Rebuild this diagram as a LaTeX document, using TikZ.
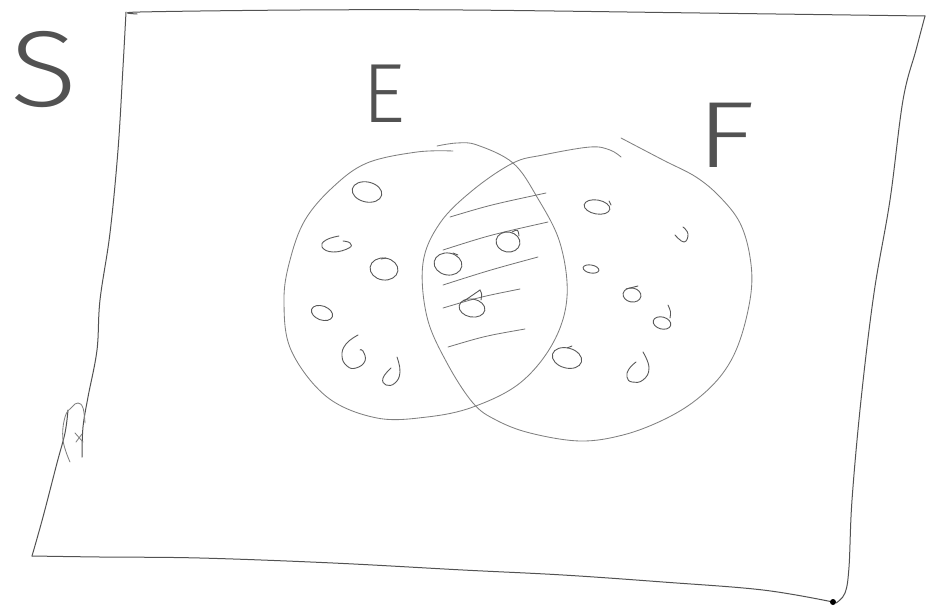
\documentclass[tikz,border=0pt]{standalone}
\usepackage{fontspec}
\IfFontExistsTF{Fira Sans Light}{\newfontfamily\handfont{Fira Sans Light}}{\newfontfamily\handfont{Fira Sans}}
\begin{document}
\begin{tikzpicture}[x=1pt,y=-1pt,
  frame/.style={draw=black!68, line width=1.0pt, line cap=round, line join=round},
  setline/.style={draw=black!50, line width=0.85pt, line cap=round},
  pebble/.style={draw=black!65, line width=0.9pt, line cap=round},
  hatch/.style={draw=black!55, line width=0.8pt, line cap=round},
  lbl/.style={text=black!68, inner sep=0pt, font=\handfont}]
\useasboundingbox (0,0) rectangle (926,605);
% ---- frame S ----
\draw[frame] plot[smooth, tension=0.6] coordinates {(137,14) (140,12) (300,10) (463,10) (700,13) (925,16)};
\draw[frame] plot[smooth, tension=0.6] coordinates {(925,16) (916,50) (903,100) (890,200) (874,293) (861,400) (852,500) (849,567) (845,593) (836,603)};
\draw[frame] plot[smooth, tension=0.6] coordinates {(32,556) (100,557) (200,558) (333,563) (463,570) (563,575) (663,582) (763,590) (833,602)};
\draw[frame] plot[smooth, tension=0.6] coordinates {(126,12) (123,67) (118,150) (110,233) (100,300) (97,350) (88,397) (83,427) (82,457)};
\draw[frame] plot[smooth, tension=0.6] coordinates {(68,410) (65,433) (57,463) (43,517) (32,556)};
\draw[setline] plot[smooth, tension=0.7] coordinates {(70,462) (63,440) (65,417) (72,407) (78,403) (83,408) (85,423)};
\draw[setline] (75,433) -- (83,442) (76,442) -- (82,434);
\fill[black] (833,602) circle (3);
% ---- set E ----
\draw[setline] plot[smooth, tension=0.6] coordinates {(453,151) (417,152) (367,163) (333,187) (305,220) (290,260) (284,300) (291,350) (327,397) (377,418) (427,417) (473,407) (520,383) (553,343) (567,297) (560,243) (537,197) (513,163) (477,145) (457,143) (437,146)};
% ---- set F ----
\draw[setline] plot[smooth, tension=0.6] coordinates {(621,138) (663,160) (696,177) (720,197) (740,223) (750,257) (751,293) (740,340) (723,373) (696,400) (663,420) (623,435) (580,441) (530,433) (496,420) (473,403) (447,363) (427,317) (423,263) (440,223) (473,190) (513,163) (543,155) (590,147) (610,150) (621,157)};
% ---- hatching of the intersection ----
\draw[hatch] (450,217) .. controls (490,205) .. (546,193);
\draw[hatch] (443,250) .. controls (490,235) .. (548,222);
\draw[hatch] (443,285) .. controls (490,270) .. (538,257);
\draw[hatch] (443,308) .. controls (480,297) .. (520,289);
\draw[hatch] (448,347) .. controls (485,336) .. (525,329);
% ---- elements of E only ----
\draw[pebble, rotate around={-12:(367,192)}] (367,192) ellipse (15 and 10);
\draw[pebble] plot[smooth, tension=0.8] coordinates {(339,236) (326,240) (322,247) (333,252) (349,248) (350,243) (343,241)};
\draw[pebble, rotate around={-8:(384,269)}] (384,269) ellipse (14 and 11);
\draw[pebble] (381,259) -- (386,258);
\draw[pebble, rotate around={-20:(322,313)}] (322,313) ellipse (11 and 7);
\draw[pebble] plot[smooth, tension=0.8] coordinates {(358,335) (346,344) (342,356) (347,366) (356,368) (365,361) (363,351) (360,350)};
\draw[pebble] plot[smooth, tension=0.8] coordinates {(397,357) (400,372) (395,383) (386,385) (383,378) (391,368)};
% ---- elements of E and F ----
\draw[pebble, rotate around={-10:(508,242)}] (508,242) ellipse (12 and 10);
\draw[pebble] (512,232) .. controls (518,229) .. (519,236);
\draw[pebble, rotate around={-10:(448,264)}] (448,264) ellipse (14 and 11);
\draw[pebble] (453,253) -- (458,255);
\draw[pebble, rotate around={-10:(472,308)}] (472,308) ellipse (13 and 9);
\draw[pebble] (464,301) -- (480,290) .. controls (482,294) .. (481,300);
% ---- elements of F only ----
\draw[pebble, rotate around={-10:(597,207)}] (597,207) ellipse (13 and 7);
\draw[pebble] (609,201) -- (611,205);
\draw[pebble] plot[smooth, tension=0.8] coordinates {(675,235) (684,242) (688,234) (683,227)};
\draw[pebble, rotate around={-10:(591,269)}] (591,269) ellipse (8 and 4);
\draw[pebble, rotate around={-10:(632,295)}] (632,295) ellipse (9 and 7);
\draw[pebble] (626,289) -- (638,286);
\draw[pebble, rotate around={-15:(662,323)}] (662,323) ellipse (9 and 6);
\draw[pebble] (668,305) .. controls (671,312) .. (670,318);
\draw[pebble, rotate around={-15:(567,358)}] (567,358) ellipse (15 and 10);
\draw[pebble] (567,348) -- (572,346);
\draw[pebble] plot[smooth, tension=0.8] coordinates {(643,352) (649,368) (643,380) (632,382) (627,377) (629,369) (636,362)};
% ---- labels ----
\node[lbl, font=\handfont\fontsize{108}{108}\selectfont, xscale=1.15] (labS) at (44,70) {S};
\node[lbl, font=\handfont\fontsize{84}{84}\selectfont] (labE) at (384,94) {E};
\node[lbl, font=\handfont\fontsize{94}{94}\selectfont, xscale=1.3] (labF) at (726,135) {F};
\end{tikzpicture}
\end{document}
